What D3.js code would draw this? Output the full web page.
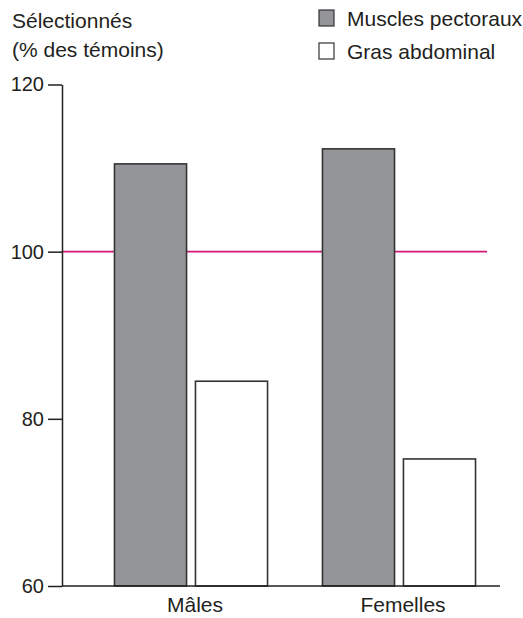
<!DOCTYPE html>
<html><head><meta charset="utf-8">
<script src="https://cdn.jsdelivr.net/npm/d3@7"></script>
<style>body{margin:0;background:#fff;} text{font-family:"Liberation Sans",Arial,sans-serif;fill:#231f20;}</style>
</head><body>
<svg id="c" width="523" height="618"></svg>
<script>
const categories = ["Mâles", "Femelles"];
const series = ["Muscles pectoraux", "Gras abdominal"];
const pectoraux = [110.5, 112.3];
const abdominal = [84.5, 75.2];
const yTicks = [60, 80, 100, 120];
const reference = 100;
const yTitle = ["Sélectionnés", "(% des témoins)"];

const svg = d3.select("#c");
const fills = ["#939598", "#ffffff"];
const ink = "#231f20";

const y = d3.scaleLinear().domain([60, 120]).range([586, 84.5]);
const x0 = d3.scaleBand().domain(categories).range([76, 514]).paddingInner(0.264).paddingOuter(0.185);
const x1 = d3.scaleBand().domain(series).range([0, x0.bandwidth()]).paddingInner(0.11);

const data = categories.map((c, i) => ({cat: c, vals: [
  {s: series[0], v: pectoraux[i]}, {s: series[1], v: abdominal[i]}]}));

svg.append("line").attr("x1", 62).attr("x2", 487)
  .attr("y1", y(reference)).attr("y2", y(reference))
  .attr("stroke", "#d4177a").attr("stroke-width", 1.6);

const g = svg.selectAll("g.grp").data(data).join("g")
  .attr("transform", d => `translate(${x0(d.cat)},0)`);
g.selectAll("rect").data(d => d.vals).join("rect")
  .attr("x", d => x1(d.s)).attr("width", x1.bandwidth())
  .attr("y", d => y(d.v)).attr("height", d => y(60) - y(d.v))
  .attr("fill", (d, i) => fills[i]).attr("stroke", "#333")
  .attr("stroke-width", 1.6);

const ya = svg.append("g").attr("transform", "translate(62,0)")
  .call(d3.axisLeft(y).tickValues(yTicks).tickSize(14).tickSizeOuter(0).tickPadding(4));
ya.select(".domain").attr("stroke", ink).attr("stroke-width", 1.5);
ya.selectAll(".tick line").attr("stroke", ink).attr("stroke-width", 1.5);
ya.selectAll(".tick text").attr("font-size", 20).attr("font-family", "Liberation Sans, Arial, sans-serif").attr("fill", ink);

svg.append("line").attr("x1", 62).attr("x2", 500).attr("y1", y(60)).attr("y2", y(60))
  .attr("stroke", ink).attr("stroke-width", 1.5);

svg.selectAll("text.cat").data(categories).join("text").attr("class", "cat")
  .attr("x", d => x0(d) + x0.bandwidth() / 2 + 4).attr("y", 612)
  .attr("text-anchor", "middle").attr("font-size", 21).text(d => d);

svg.selectAll("text.yt").data(yTitle).join("text").attr("class", "yt")
  .attr("x", 12).attr("y", (d, i) => 28 + i * 29).attr("font-size", 21).text(d => d);

const lg = svg.selectAll("g.lg").data(series).join("g").attr("class", "lg")
  .attr("transform", (d, i) => `translate(319,${10 + i * 33})`);
lg.append("rect").attr("width", 15).attr("height", 16)
  .attr("fill", (d, i) => fills[i]).attr("stroke", "#333").attr("stroke-width", 1.2);
lg.append("text").attr("x", 28).attr("y", 16).attr("font-size", 21).text(d => d);
</script>
</body></html>
